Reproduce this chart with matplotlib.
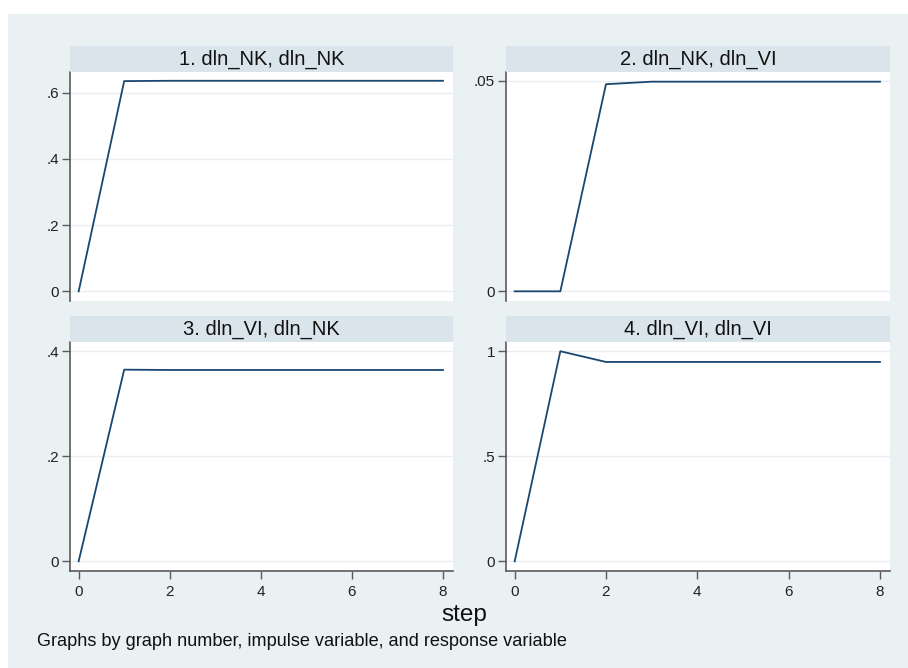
import matplotlib
matplotlib.use("Agg")
import matplotlib.pyplot as plt
from matplotlib.patches import Rectangle

plt.rcParams['font.family'] = ['Liberation Sans', 'DejaVu Sans']

steps = [0, 1, 2, 3, 4, 5, 6, 7, 8]
irf_nk_nk = [0.0, 0.635, 0.636, 0.636, 0.636, 0.636, 0.636, 0.636, 0.636]
irf_nk_vi = [0.0, 0.0, 0.0492, 0.0498, 0.0498, 0.0498, 0.0498, 0.0498, 0.0498]
irf_vi_nk = [0.0, 0.365, 0.3644, 0.3644, 0.3644, 0.3644, 0.3644, 0.3644, 0.3644]
irf_vi_vi = [0.0, 1.0, 0.949, 0.949, 0.949, 0.949, 0.949, 0.949, 0.949]

titles = ["1. dln_NK, dln_NK", "2. dln_NK, dln_VI", "3. dln_VI, dln_NK", "4. dln_VI, dln_VI"]
series = [irf_nk_nk, irf_nk_vi, irf_vi_nk, irf_vi_vi]
yticks = [[0, 0.2, 0.4, 0.6], [0, 0.05], [0, 0.2, 0.4], [0, 0.5, 1]]
ytlabels = [["0", ".2", ".4", ".6"], ["0", ".05"], ["0", ".2", ".4"], ["0", ".5", "1"]]
xticks = [0, 2, 4, 6, 8]
xlabel = "step"
note = "Graphs by graph number, impulse variable, and response variable"

W, H = 908, 668
fig = plt.figure(figsize=(W / 100, H / 100), dpi=100)
fig.patch.set_facecolor("white")

BG = "#EAF1F3"
STRIP = "#D9E5EB"
LINE = "#1A476F"
GRID = "#E8EFF1"
SPINE = "#5a5a5a"

def fr(x0, y0, x1, y1):
    return [x0 / W, 1 - y1 / H, (x1 - x0) / W, (y1 - y0) / H]

fig.add_artist(Rectangle((8 / W, 0), 1 - 8 / W, 1 - 14 / H, transform=fig.transFigure,
                         facecolor=BG, edgecolor="none", zorder=0))

# panel pixel boxes: (x0, strip_top, plot_top, plot_bottom, x1)
boxes = [(70, 46, 72, 301, 453), (506, 46, 72, 301, 890),
         (70, 316, 342, 571, 453), (506, 316, 342, 571, 890)]
ylims = [(-0.029, 0.6625), (-0.0023, 0.0521), (-0.0185, 0.4177), (-0.046, 1.044)]

for i, (x0, st, pt, pb, x1) in enumerate(boxes):
    fig.add_artist(Rectangle((x0 / W, 1 - pt / H), (x1 - x0) / W, (pt - st) / H,
                             transform=fig.transFigure, facecolor=STRIP,
                             edgecolor="none", zorder=1))
    fig.text((x0 + x1) / 2 / W, 1 - (st + pt) / 2 / H, titles[i], ha="center",
             va="center", fontsize=14.5, color="#111111")
    ax = fig.add_axes(fr(x0, pt, x1, pb))
    ax.set_facecolor("white")
    ax.plot(steps, series[i], color=LINE, lw=1.3, zorder=3)
    ax.set_xlim(-0.19, 8.22)
    ax.set_ylim(*ylims[i])
    ax.set_yticks(yticks[i])
    ax.set_yticklabels(ytlabels[i])
    for y in yticks[i]:
        ax.axhline(y, color=GRID, lw=1.0, zorder=1)
    for s in ["top", "right"]:
        ax.spines[s].set_visible(False)
    ax.spines["left"].set_color(SPINE)
    ax.spines["left"].set_linewidth(1.2)
    ax.tick_params(axis="y", length=6, width=1, color=SPINE, labelsize=11,
                   pad=2, labelcolor="#222222")
    if i < 2:
        ax.spines["bottom"].set_visible(False)
        ax.set_xticks([])
    else:
        ax.spines["bottom"].set_color(SPINE)
        ax.spines["bottom"].set_linewidth(1.2)
        ax.set_xticks(xticks)
        ax.tick_params(axis="x", length=6, width=1, color=SPINE, labelsize=11,
                       pad=4, labelcolor="#222222")

fig.text(464 / W, 1 - 615 / H, xlabel, ha="center", va="center", fontsize=17.5,
         color="#111111")
fig.text(37 / W, 1 - 641 / H, note, ha="left", va="center", fontsize=13.1,
         color="#111111")

fig.savefig("out.png", dpi=100, facecolor=fig.get_facecolor())
